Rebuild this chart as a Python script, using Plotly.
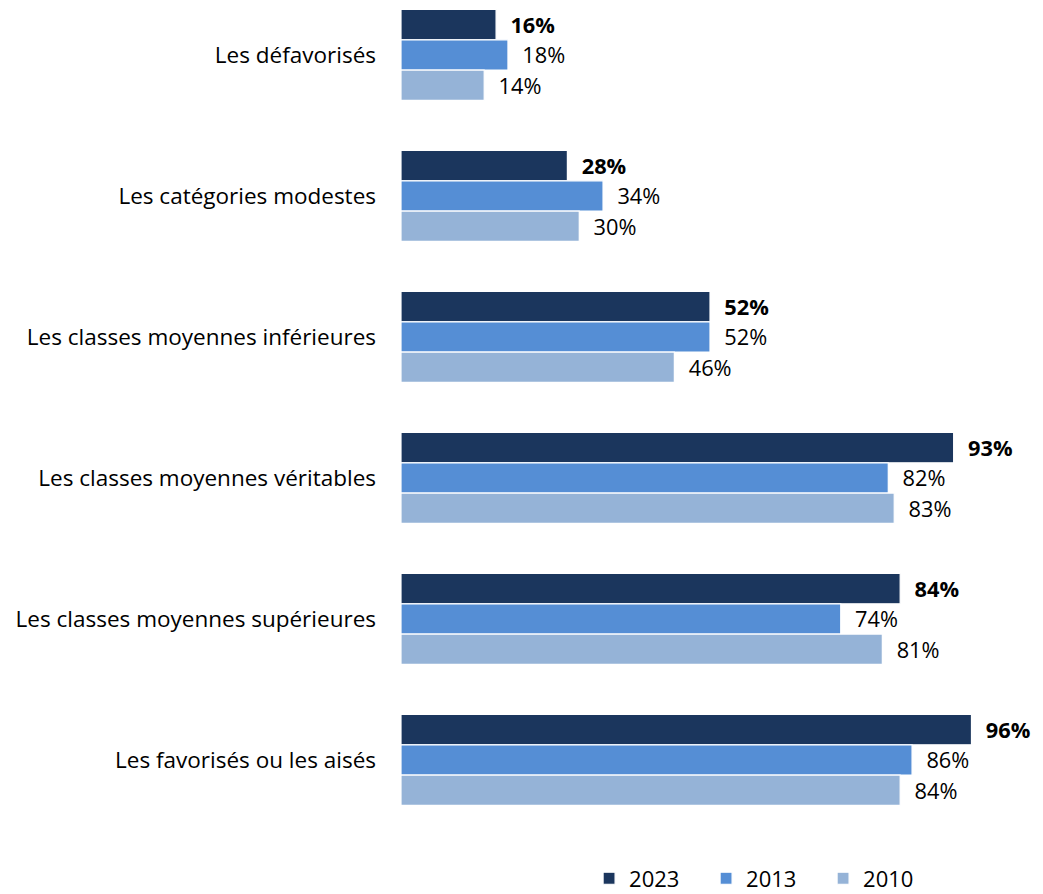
import plotly.graph_objects as go

categories = [
    "Les défavorisés",
    "Les catégories modestes",
    "Les classes moyennes inférieures",
    "Les classes moyennes véritables",
    "Les classes moyennes supérieures",
    "Les favorisés ou les aisés",
]
years = ["2023", "2013", "2010"]
values_2023 = [16, 28, 52, 93, 84, 96]
values_2013 = [18, 34, 52, 82, 74, 86]
values_2010 = [14, 30, 46, 83, 81, 84]

colors = {"2023": "#1B365D", "2013": "#558ED5", "2010": "#95B3D7"}
series = {"2023": values_2023, "2013": values_2013, "2010": values_2010}

FONT = "Open Sans"
pad = "\u00a0\u00a0"

fig = go.Figure()
for yr in years:
    bold = yr == "2023"
    fig.add_trace(go.Bar(
        name=yr,
        y=categories,
        x=series[yr],
        orientation="h",
        marker=dict(color=colors[yr], line=dict(color="white", width=1.2)),
        text=[(pad + "<b>%d%%</b>" if bold else pad + "%d%%") % v for v in series[yr]],
        textposition="outside",
        textfont=dict(family=FONT, size=23, color="black"),
        cliponaxis=False,
        hoverinfo="skip",
    ))

# the page body adds 8px around the figure, so the figure is 8px smaller
fig.update_layout(
    width=1035,
    height=886,
    barmode="group",
    bargap=0.355,
    bargroupgap=0,
    plot_bgcolor="white",
    paper_bgcolor="white",
    margin=dict(l=393, r=43, t=0, b=74, autoexpand=False),
    font=dict(family=FONT, size=20, color="black"),
    showlegend=True,
    legend=dict(
        orientation="h",
        x=0.314,
        xanchor="left",
        y=-0.072,
        yanchor="middle",
        font=dict(family=FONT, size=22, color="black"),
        entrywidth=72,
        entrywidthmode="pixels",
        traceorder="normal",
    ),
    xaxis=dict(
        range=[0, 100.8],
        visible=False,
        showgrid=False,
        zeroline=False,
    ),
    yaxis=dict(
        range=[5.426, -0.333],
        showgrid=False,
        zeroline=False,
        showline=False,
        ticks="",
        ticklabelstandoff=24,
        tickfont=dict(family=FONT, size=22.5, color="black"),
        automargin=False,
    ),
)

fig.write_html("out.html")
